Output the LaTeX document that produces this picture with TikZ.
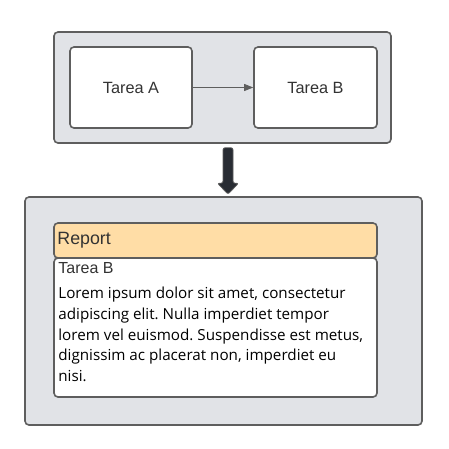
\documentclass[tikz,border=0pt]{standalone}
\usepackage{fontspec}
\setmainfont{Liberation Sans}
\newfontfamily\lorem{Open Sans}
\usetikzlibrary{calc,positioning,arrows.meta}
\definecolor{marco}{HTML}{5E5E5E}
\definecolor{fondo}{HTML}{E1E3E7}
\definecolor{naranja}{HTML}{FFDDA6}
\definecolor{oscuro}{HTML}{282C33}
\definecolor{letra}{HTML}{333333}
\frenchspacing

\begin{document}
\begin{tikzpicture}[x=1pt,y=-1pt,
	caja/.style={draw=marco,line width=1.6pt,rounded corners=4pt,inner sep=0pt},
	grupo/.style={caja,fill=fondo},
	tarea/.style={caja,fill=white,font=\fontsize{16.3}{19}\selectfont,text=letra},
	flecha/.style={fill=oscuro,draw=marco,line width=0.8pt,rounded corners=2pt}]
		\useasboundingbox (0,0) rectangle (449,448);
		% bloque de arriba
		\node (flujo) [grupo,minimum width=337pt,minimum height=111pt] at (222.5,87.5) {};
		\node (tareaA) [tarea,minimum width=122pt,minimum height=81pt] at (131,87.5) {Tarea A};
		\node (tareaB) [tarea,minimum width=123pt,minimum height=81pt] at (315.5,87.5) {Tarea B};
		\draw [draw=marco,line width=0.8pt,-{Triangle[length=9pt,width=7pt]}] (tareaA) -- (tareaB);
		% bloque de abajo
		\node (reporte) [grupo,minimum width=397pt,minimum height=228pt] at (223.5,311) {};
		\node (cuerpo) [caja,fill=white,minimum width=323pt,minimum height=139pt] at (215.5,327.5) {};
		\node (cabecera) [caja,fill=naranja,minimum width=323pt,minimum height=35pt] at (215.5,240.5) {};
		\node (rtitulo) [right=4pt of cabecera.west,anchor=west,text=letra,font=\fontsize{17.8}{20}\selectfont,inner sep=0pt] {Report};
		\node (btitulo) [below right=5pt and 5pt of cuerpo.north west,anchor=north west,text=letra,font=\fontsize{16}{18}\selectfont,inner sep=0pt] {Tarea B};
		\node (texto) [below=13pt of btitulo.south west,anchor=north west,inner sep=0pt,align=left,font=\lorem\fontsize{15.2}{20.8}\selectfont] {Lorem ipsum dolor sit amet, consectetur\\adipiscing elit. Nulla imperdiet tempor\\lorem vel euismod. Suspendisse est metus,\\dignissim ac placerat non, imperdiet eu\\nisi.};
		% flecha gruesa
		\coordinate (ini) at ($(flujo.south)+(5.5,4)$);
		\coordinate (fin) at ($(reporte.north)+(4.5,-2)$);
		\filldraw [flecha] ($(ini)+(-5,0)$) -- ($(ini)+(5,0)$) -- ($(fin)+(5,-11)$) -- ($(fin)+(10.5,-11)$) -- (fin) -- ($(fin)+(-10.5,-11)$) -- ($(fin)+(-5,-11)$) -- cycle;
\end{tikzpicture}
\end{document}
